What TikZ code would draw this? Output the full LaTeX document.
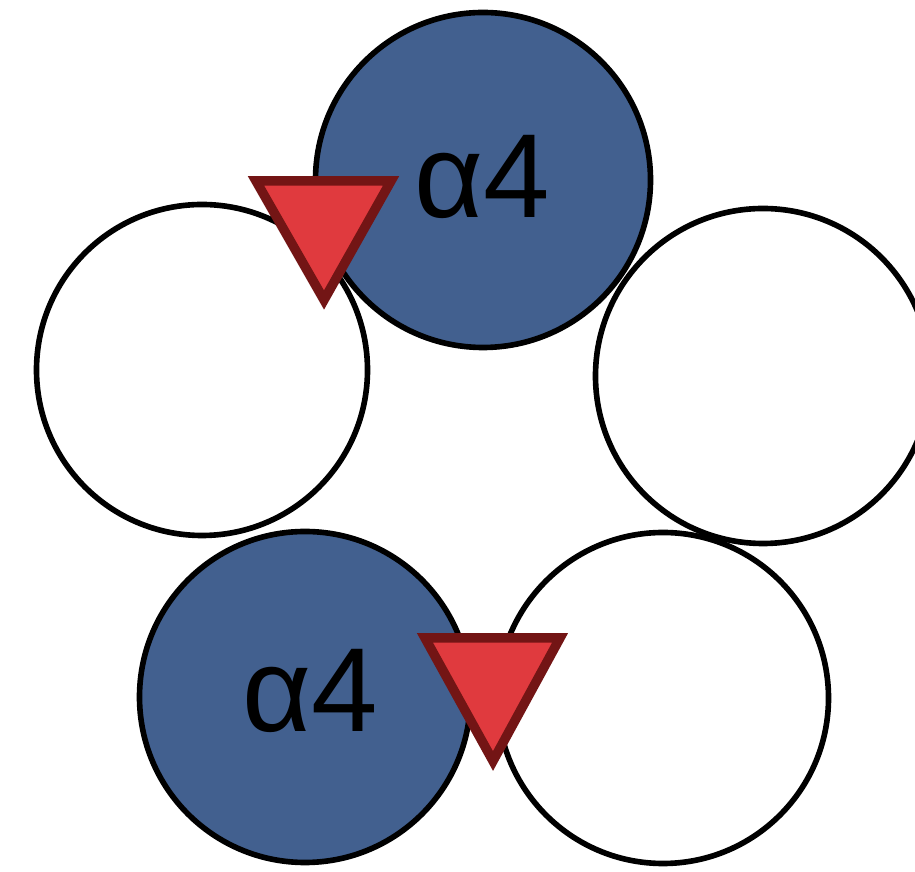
\documentclass[tikz,border=0pt]{standalone}
\usepackage{fontspec}
\setmainfont{Liberation Sans}
\usepackage{tikz}
\usetikzlibrary{positioning, calc}
\definecolor{subunitblue}{RGB}{66,96,143}
\definecolor{markred}{RGB}{224,58,62}
\definecolor{markdark}{RGB}{115,21,21}

\begin{document}
\begin{tikzpicture}[
    subunit/.style={
        circle,
        draw=black,
        line width=1.6pt,
        inner sep=0pt,
        minimum size=3.31cm
    },
    alpha/.style={subunit, fill=subunitblue},
    label text/.style={
        anchor=base,
        inner sep=0pt,
        font=\fontsize{34}{40}\selectfont
    },
    site/.style={
        fill=markred,
        draw=markdark,
        line width=2.7pt,
        line join=miter
    }
]
\useasboundingbox (0,0) rectangle (9.15,8.72);

% Blue subunits
\node[alpha, minimum size=3.35cm] (a1) at (4.83,6.92) {};
\node[alpha] (a2) at (3.05,1.75) {};

% Open subunits
\node[subunit] (w1) at (2.02,5.02) {};
\node[subunit, minimum size=3.35cm] (w2) at (7.63,4.96) {};
\node[subunit] (w3) at (6.63,1.74) {};

% Labels
\node[label text] (t1) at (4.82,6.54) {α4};
\node[label text] (t2) at (3.10,1.40) {α4};

% Binding sites
\draw[site] (2.56,6.91) -- (3.91,6.91) -- (3.24,5.72) -- cycle;
\draw[site] (4.25,2.34) -- (5.60,2.34) -- (4.93,1.11) -- cycle;

\end{tikzpicture}
\end{document}
